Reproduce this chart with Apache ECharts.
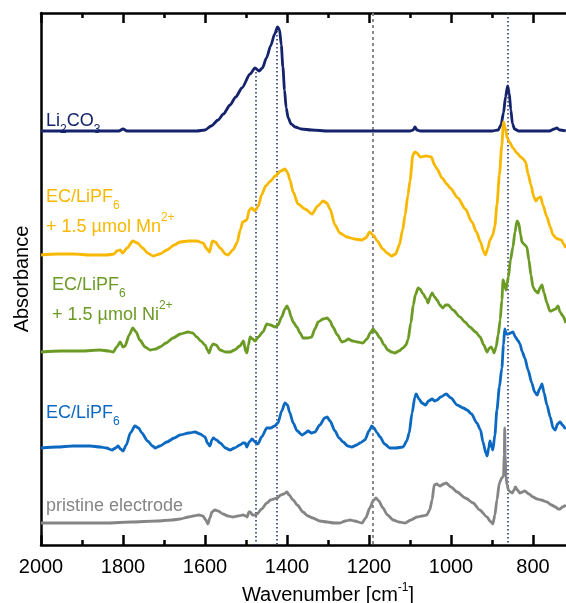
<!DOCTYPE html>
<html>
<head>
<meta charset="utf-8">
<script src="https://cdn.jsdelivr.net/npm/echarts@6.0.0/dist/echarts.min.js"></script>
<style>
html, body { margin: 0; padding: 0; background: #fff; }
#chart { width: 566px; height: 603px; }
</style>
</head>
<body>
<div id="chart"></div>
<script>
// [wavenumber (cm-1), absorbance with offset (a.u.)]
const li2co3 = [[2000,414],[1900,414],[1810,414],[1800,416],[1790,414],[1700,414],[1620,414],[1600,415],[1585,419],[1568,425],[1555,431],[1539,440],[1525,448],[1510,457],[1490,471],[1478,477],[1468,474],[1460,477],[1450,487],[1440,499],[1430,511],[1423,518],[1418,515],[1414,500],[1410,478],[1406,455],[1402,437],[1397,427],[1390,421],[1380,418],[1365,416],[1340,415],[1300,414],[1200,414],[1100,414],[1092,415],[1088,418],[1083,415],[1075,414],[1000,414],[900,414],[885,415],[878,420],[872,432],[867,448],[862,459],[858,452],[854,435],[850,421],[845,416],[835,414],[800,414],[760,414],[748,416],[742,417],[735,415],[720,414]]

const ecMn = [[2000,290],[1960,291],[1920,291],[1880,290],[1840,290],[1822,291],[1815,294],[1807,295],[1801,292],[1790,297],[1776,304],[1765,302],[1752,297],[1740,292],[1727,289],[1710,291],[1693,295],[1675,300],[1661,303],[1640,304],[1620,304],[1605,302],[1595,296],[1589,293],[1582,304],[1575,303],[1563,297],[1550,291],[1544,290],[1532,295],[1522,302],[1514,315],[1508,323],[1498,325],[1492,335],[1486,337],[1478,334],[1470,339],[1462,350],[1452,359],[1440,364],[1429,369],[1415,374],[1405,376],[1398,372],[1393,365],[1385,353],[1373,341],[1356,336],[1339,331],[1325,339],[1312,344],[1303,342],[1295,336],[1283,320],[1271,312],[1254,308],[1235,306],[1218,305],[1208,307],[1198,313],[1188,309],[1180,304],[1166,296],[1156,292],[1145,289],[1135,291],[1126,300],[1118,315],[1112,330],[1105,350],[1100,364],[1093,390],[1088,393],[1083,392],[1075,388],[1060,389],[1048,388],[1040,380],[1034,376],[1022,367],[1010,361],[1002,357],[983,347],[965,336],[949,323],[938,313],[928,303],[920,293],[916,290],[910,297],[905,305],[898,310],[893,319],[888,340],[882,370],[876,400],[872,423],[868,418],[863,407],[856,402],[849,397],[839,392],[830,388],[824,386],[818,383],[812,371],[805,360],[798,348],[793,344],[787,347],[781,348],[776,340],[766,328],[758,318],[751,310],[744,307],[739,306],[731,305],[727,302],[720,297]]

const ecNi = [[2000,193],[1950,194],[1900,194],[1856,195],[1835,194],[1824,193],[1815,198],[1807,203],[1800,198],[1795,199],[1785,210],[1776,217],[1768,213],[1759,205],[1746,198],[1734,195],[1720,196],[1710,198],[1695,202],[1678,207],[1660,211],[1641,213],[1630,212],[1620,208],[1610,204],[1600,200],[1594,195],[1590,192],[1584,199],[1580,201],[1573,200],[1563,195],[1550,193],[1539,193],[1528,195],[1515,199],[1506,204],[1501,194],[1498,192],[1494,200],[1490,208],[1484,206],[1478,204],[1470,208],[1459,213],[1449,221],[1440,220],[1429,218],[1422,220],[1413,228],[1405,236],[1400,239],[1395,235],[1390,228],[1385,223],[1376,218],[1368,212],[1361,207],[1349,207],[1340,208],[1332,216],[1324,223],[1312,226],[1302,227],[1295,224],[1288,218],[1277,210],[1266,203],[1258,204],[1251,206],[1240,204],[1228,203],[1215,202],[1205,206],[1197,212],[1190,216],[1184,213],[1173,207],[1163,200],[1154,195],[1145,193],[1137,192],[1127,194],[1117,197],[1110,200],[1105,205],[1098,222],[1092,240],[1087,250],[1080,257],[1076,256],[1068,251],[1060,246],[1056,242],[1050,249],[1046,252],[1040,248],[1034,245],[1027,240],[1020,237],[1013,240],[1007,240],[995,235],[978,228],[966,223],[954,218],[940,213],[929,208],[920,200],[912,193],[906,197],[902,198],[898,195],[895,192],[890,198],[885,210],[880,225],[876,245],[873,265],[870,262],[866,255],[863,262],[860,268],[855,285],[849,298],[844,313],[839,324],[835,322],[830,310],[827,303],[820,300],[815,298],[810,285],[805,270],[800,258],[794,254],[788,252],[783,257],[778,260],[773,252],[766,242],[759,234],[755,234],[751,235],[745,236],[739,239],[734,233],[727,229],[720,222]]

const ecOnly = [[2000,97],[1960,98],[1922,99],[1880,99],[1856,98],[1840,97],[1827,95],[1818,97],[1812,99],[1806,96],[1800,94],[1792,100],[1782,112],[1771,119],[1762,117],[1754,112],[1740,104],[1728,99],[1722,97],[1710,99],[1693,103],[1675,107],[1661,110],[1640,112],[1624,113],[1612,111],[1600,108],[1594,102],[1588,99],[1583,105],[1580,107],[1572,105],[1563,102],[1550,97],[1539,95],[1528,97],[1515,100],[1507,102],[1502,102],[1498,98],[1492,103],[1485,106],[1478,103],[1471,101],[1462,108],[1449,117],[1440,117],[1430,119],[1422,122],[1413,134],[1405,142],[1399,140],[1393,132],[1385,122],[1375,114],[1363,110],[1355,112],[1349,114],[1340,112],[1332,113],[1320,120],[1308,127],[1302,128],[1295,124],[1283,114],[1273,107],[1263,103],[1252,99],[1242,98],[1230,100],[1222,102],[1210,105],[1200,114],[1193,119],[1188,117],[1180,112],[1173,108],[1162,101],[1149,97],[1135,97],[1117,98],[1108,104],[1102,112],[1095,132],[1088,148],[1085,151],[1078,146],[1071,142],[1062,140],[1055,144],[1046,146],[1040,144],[1034,145],[1025,148],[1012,151],[1000,147],[985,140],[970,137],[961,135],[950,131],[937,122],[928,115],[922,103],[915,92],[912,89],[908,97],[905,104],[901,98],[898,95],[893,110],[888,135],[882,158],[876,177],[872,200],[869,216],[865,211],[861,211],[855,212],[849,213],[843,208],[836,204],[832,201],[826,193],[820,187],[812,175],[803,162],[796,153],[790,150],[784,156],[778,161],[773,152],[766,140],[758,128],[751,117],[746,115],[740,121],[734,123],[728,120],[722,117],[720,116]]

const pristine = [[2000,22],[1920,22],[1839,22],[1780,23],[1717,24],[1680,25],[1661,26],[1640,28],[1629,29],[1615,30],[1605,29],[1598,25],[1593,21],[1588,27],[1583,33],[1576,35],[1568,34],[1556,31],[1544,29],[1532,28],[1520,29],[1507,30],[1500,29],[1497,28],[1493,33],[1490,33],[1484,30],[1478,30],[1473,31],[1462,36],[1449,42],[1440,45],[1432,46],[1424,47],[1415,50],[1408,51],[1400,53],[1395,50],[1385,45],[1375,40],[1361,33],[1349,29],[1337,27],[1320,24],[1302,23],[1285,22],[1271,22],[1258,24],[1246,25],[1235,24],[1217,22],[1208,27],[1198,37],[1190,44],[1183,47],[1176,44],[1166,37],[1155,30],[1141,25],[1127,23],[1112,22],[1098,25],[1083,28],[1070,29],[1059,30],[1052,35],[1046,45],[1041,60],[1035,61],[1027,59],[1018,61],[1012,62],[1000,58],[985,53],[965,47],[946,42],[930,35],[912,28],[905,24],[898,21],[893,30],[888,45],[882,62],[876,67],[872,69],[870,90],[869,117],[868,90],[866,68],[863,60],[860,55],[855,53],[851,52],[846,55],[843,58],[838,55],[832,52],[826,53],[820,54],[810,51],[800,48],[790,46],[780,45],[766,43],[755,40],[745,38],[739,36],[734,36],[728,38],[720,40]]

// reference lines: [wavenumber, top value]
const dottedLines = [[1476, 477], [1424, 518], [861, 532]]
const dashedLines = [[1190, 532]]

const font = "'Liberation Sans', Arial, sans-serif"
const colors = {
  li: '#14236b',
  mn: '#f9b800',
  ni: '#6b9b25',
  ec: '#0b69c2',
  pr: '#858585'
}

const chart = echarts.init(document.getElementById('chart'))

function spectrum(name, data, color) {
  return {
    name: name,
    type: 'line',
    data: data,
    showSymbol: false,
    smooth: 0.25,
    smoothMonotone: 'x',
    z: 3,
    lineStyle: { color: color, width: 2.8 },
    silent: true
  }
}

function label(text, x, y, color) {
  return {
    type: 'text',
    x: x,
    y: y,
    z: 10,
    style: {
      text: text,
      fill: color,
      font: '18px ' + font,
      verticalAlign: 'middle',
      rich: {
        t: { fontSize: 18, fontFamily: font, lineHeight: 30, verticalAlign: 'middle' },
        sub: { fontSize: 12, fontFamily: font, lineHeight: 12, verticalAlign: 'bottom' },
        sup: { fontSize: 12, fontFamily: font, lineHeight: 12, verticalAlign: 'top' }
      }
    }
  }
}

const axisCommon = {
  type: 'value',
  min: 600,
  max: 2000,
  interval: 200,
  inverse: true,
  axisLine: { show: true, lineStyle: { color: '#000', width: 2.5 } },
  axisTick: { show: true, inside: true, length: 10, lineStyle: { color: '#000', width: 2.5 } },
  minorTick: { show: true, splitNumber: 2, length: 5, lineStyle: { color: '#000', width: 2.5 } },
  splitLine: { show: false }
}

const marks = []
dottedLines.forEach(function (l) {
  marks.push([{ coord: [l[0], l[1]], lineStyle: { color: '#1d2a6b', width: 1.5, type: [1.5, 2.5] } }, { coord: [l[0], 0] }])
})
dashedLines.forEach(function (l) {
  marks.push([{ coord: [l[0], l[1]], lineStyle: { color: '#7f7f7f', width: 1.8, type: [3, 3] } }, { coord: [l[0], 0] }])
})

const liSeries = spectrum('Li2CO3', li2co3, colors.li)
liSeries.markLine = {
  silent: true,
  symbol: 'none',
  z: 1,
  label: { show: false },
  data: marks
}

chart.setOption({
  animation: false,
  backgroundColor: '#fff',
  // 600 sits off-canvas on the right so the frame looks cropped like the original
  grid: { left: 41, right: -49, top: 13, bottom: 58, containLabel: false, outerBoundsMode: 'none' },
  xAxis: [
    Object.assign({}, axisCommon, {
      position: 'bottom',
      name: '{a|Wavenumber [cm}{s|-1}{a|]}',
      nameLocation: 'middle',
      nameGap: 37,
      nameTextStyle: {
        padding: [0, 0, 0, 0],
        rich: {
          a: { fontSize: 20, fontFamily: font, color: '#000', lineHeight: 26 },
          s: { fontSize: 12, fontFamily: font, color: '#000', lineHeight: 12, verticalAlign: 'top' }
        }
      },
      axisLabel: {
        margin: 12,
        fontSize: 20,
        fontFamily: font,
        color: '#000',
        formatter: function (v) { return v === 600 ? '' : String(v) }
      }
    }),
    Object.assign({}, axisCommon, {
      position: 'top',
      axisLabel: { show: false }
    })
  ],
  yAxis: {
    type: 'value',
    min: 0,
    max: 532,
    name: 'Absorbance',
    nameLocation: 'middle',
    nameGap: 9,
    nameTextStyle: { fontSize: 20, fontFamily: font, color: '#000' },
    axisLine: { show: true, lineStyle: { color: '#000', width: 2.5 } },
    axisTick: { show: false },
    axisLabel: { show: false },
    splitLine: { show: false }
  },
  series: [
    liSeries,
    spectrum('EC/LiPF6 + Mn', ecMn, colors.mn),
    spectrum('EC/LiPF6 + Ni', ecNi, colors.ni),
    spectrum('EC/LiPF6', ecOnly, colors.ec),
    spectrum('pristine electrode', pristine, colors.pr)
  ],
  graphic: [
    label('{t|Li}{sub|2}{t|CO}{sub|3}', 46, 121, colors.li),
    label('{t|EC/LiPF}{sub|6}', 46, 197, colors.mn),
    label('{t|+ 1.5 µmol Mn}{sup|2+}', 46, 227, colors.mn),
    label('{t|EC/LiPF}{sub|6}', 52, 285, colors.ni),
    label('{t|+ 1.5 µmol Ni}{sup|2+}', 52, 315, colors.ni),
    label('{t|EC/LiPF}{sub|6}', 46, 413, colors.ec),
    label('{t|pristine electrode}', 46, 506, colors.pr)
  ]
})
</script>
</body>
</html>
